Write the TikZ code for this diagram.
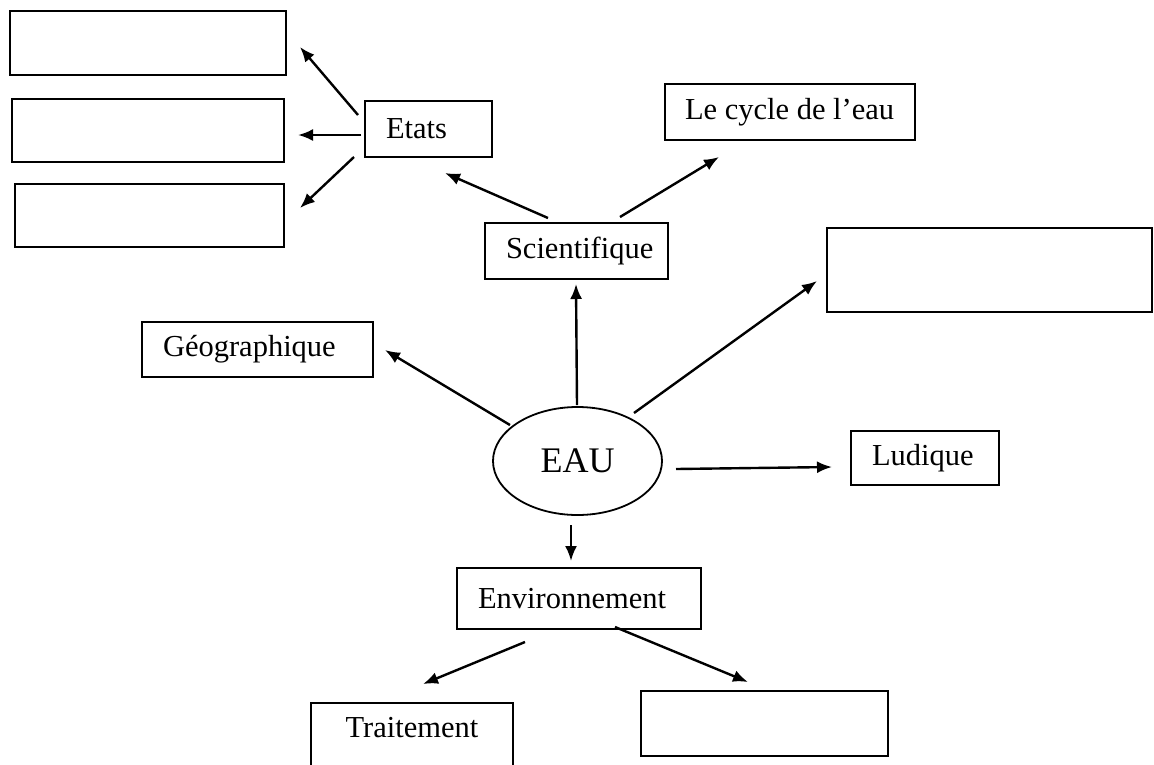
\documentclass[tikz,border=0pt]{standalone}
\usepackage{fontspec}
\setmainfont{Liberation Serif}
\usetikzlibrary{arrows.meta,shapes.geometric}
\begin{document}
\begin{tikzpicture}[x=1pt,y=-1pt,
  frame/.style={draw, line width=2.3pt, rectangle, inner sep=0pt},
  lbox/.style={frame, inner xsep=21pt, font=\fontsize{30.5}{36}\selectfont},
  oval/.style={draw, ellipse, line width=1.8pt, inner sep=0pt, font=\fontsize{36}{42}\selectfont},
  arr/.style={line width=2.4pt, -{Latex[length=15pt,width=12pt]}}]
\fill[white] (0,0) rectangle (1154,764);
\useasboundingbox (0,0) rectangle (1154,764);

% empty boxes
\node[frame, minimum width=276pt, minimum height=64pt] (b1) at (148,43) {};
\node[frame, minimum width=272pt, minimum height=63pt] (b2) at (148,130.5) {};
\node[frame, minimum width=269pt, minimum height=63pt] (b3) at (149.5,215.5) {};
\node[frame, minimum width=325pt, minimum height=84pt] (rbox) at (989.5,270) {};
\node[frame, minimum width=247pt, minimum height=65pt] (bbox) at (764.5,723.5) {};

% labelled boxes
\node[lbox, minimum height=56pt] (etats) at (428.5,129) {\makebox[85pt][l]{Etats}};
\node[lbox, inner xsep=20pt, minimum height=56pt] (cycle) at (790,112) {\makebox[210pt][l]{Le cycle de l’eau}};
\node[lbox, minimum height=56pt] (sci) at (576.5,251) {\makebox[141pt][l]{Scientifique}};
\node[lbox, minimum height=55pt] (geo) at (257.5,349.5) {\makebox[189pt][l]{Géographique}};
\node[lbox, minimum height=54pt] (lud) at (925,458) {\makebox[106pt][l]{Ludique}};
\node[lbox, minimum height=61pt] (env) at (579,598.5) {\makebox[202pt][l]{Environnement}};
\node[lbox, inner xsep=0pt, minimum width=202pt, minimum height=65pt, text depth=16pt] (trt) at (412,735.5) {Traitement};

% central ellipse
\node[oval, minimum width=169pt, minimum height=108pt] (eau) at (577.5,461) {EAU};

% connector end points
\coordinate (e1t) at (358,115);  \coordinate (e1h) at (300,47);
\coordinate (e2t) at (361,135);  \coordinate (e2h) at (298,135);
\coordinate (e3t) at (354,157);  \coordinate (e3h) at (300,208);
\coordinate (s1t) at (548,218);  \coordinate (s1h) at (445,173);
\coordinate (s2t) at (620,217);  \coordinate (s2h) at (719,157);
\coordinate (u1t) at (577,405);  \coordinate (u1h) at (576,284);
\coordinate (u2t) at (510,425);  \coordinate (u2h) at (385,350);
\coordinate (u3t) at (634,413);  \coordinate (u3h) at (817,281);
\coordinate (u4t) at (676,469);  \coordinate (u4h) at (832,467);
\coordinate (u5t) at (571,525);  \coordinate (u5h) at (571,561);
\coordinate (v1t) at (525,642);  \coordinate (v1h) at (423,684);
\coordinate (v2t) at (615,627);  \coordinate (v2h) at (748,682);

% connectors
\draw[arr] (e1t) -- (e1h);
\draw[arr] (e2t) -- (e2h);
\draw[arr] (e3t) -- (e3h);
\draw[arr] (s1t) -- (s1h);
\draw[arr] (s2t) -- (s2h);
\draw[arr] (u1t) -- (u1h);
\draw[arr] (u2t) -- (u2h);
\draw[arr] (u3t) -- (u3h);
\draw[arr] (u4t) -- (u4h);
\draw[arr] (u5t) -- (u5h);
\draw[arr] (v1t) -- (v1h);
\draw[arr] (v2t) -- (v2h);
\end{tikzpicture}
\end{document}
